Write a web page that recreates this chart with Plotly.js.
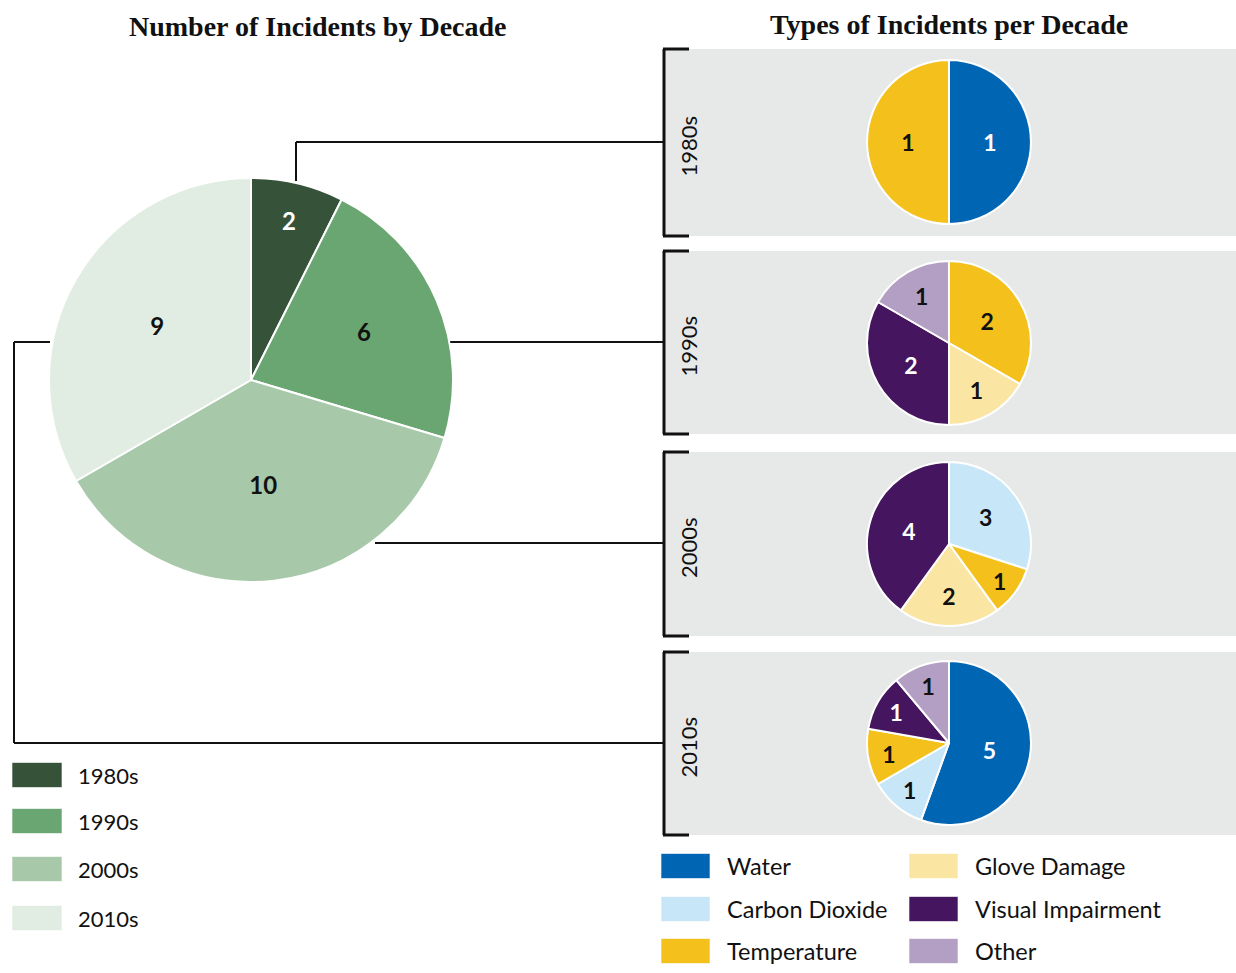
<!DOCTYPE html>
<html>
<head>
<meta charset="utf-8">
<script src="https://cdn.plot.ly/plotly-3.0.1.min.js"></script>
<style>html,body{margin:0;padding:0;background:#fff;}#chart{width:1236px;height:973px;}</style>
</head>
<body>
<div id="chart"></div>
<script>
// ---- data ----
const decades = ['1980s', '1990s', '2000s', '2010s'];
const decadeCounts = [2, 6, 10, 9];
const decadeColors = ['#36533a', '#6aa672', '#a8c8aa', '#e1ede3'];
const decadeTextColors = ['#ffffff', '#111111', '#111111', '#111111'];

const incidentTypes = ['Water', 'Carbon Dioxide', 'Temperature', 'Glove Damage', 'Visual Impairment', 'Other'];
const typeColors = ['#0066b3', '#c7e7f8', '#f4c01b', '#fbe5a3', '#45155f', '#b39fc4'];
const typeTextColors = ['#ffffff', '#111111', '#111111', '#111111', '#ffffff', '#111111'];

const types1980s = ['Water', 'Temperature'];
const values1980s = [1, 1];
const types1990s = ['Temperature', 'Glove Damage', 'Visual Impairment', 'Other'];
const values1990s = [2, 1, 2, 1];
const types2000s = ['Carbon Dioxide', 'Temperature', 'Glove Damage', 'Visual Impairment'];
const values2000s = [3, 1, 2, 4];
const types2010s = ['Water', 'Carbon Dioxide', 'Temperature', 'Visual Impairment', 'Other'];
const values2010s = [5, 1, 1, 1, 1];

const titleLeft = 'Number of Incidents by Decade';
const titleRight = 'Types of Incidents per Decade';

// ---- layout helpers ----
const W = 1236, H = 973;
const px = x => x / W;
const py = y => 1 - y / H;
const SANS = 'Lato, "Open Sans", sans-serif';

function domainFor(cx, cy, r) {
  return { x: [px(cx - r), px(cx + r)], y: [py(cy + r), py(cy - r)] };
}

const traces = [];
traces.push({
  type: 'pie', labels: decades, values: decadeCounts, sort: false,
  direction: 'clockwise', rotation: 0,
  marker: { colors: decadeColors, line: { color: '#ffffff', width: 2 } },
  textinfo: 'value', textposition: 'inside', insidetextorientation: 'horizontal',
  textfont: { family: SANS, size: 24, color: decadeTextColors, weight: 'bold' },
  domain: domainFor(251, 380, 202), showlegend: false, hole: 0
});

const panels = [
  { types: types1980s, values: values1980s, cy: 142, top: 49, bottom: 236 },
  { types: types1990s, values: values1990s, cy: 343, top: 251, bottom: 434 },
  { types: types2000s, values: values2000s, cy: 544, top: 452, bottom: 636 },
  { types: types2010s, values: values2010s, cy: 743, top: 652, bottom: 835 }
];

panels.forEach(p => {
  traces.push({
    type: 'pie', labels: p.types, values: p.values, sort: false,
    direction: 'clockwise', rotation: 0,
    marker: {
      colors: p.types.map(t => typeColors[incidentTypes.indexOf(t)]),
      line: { color: '#ffffff', width: 2 }
    },
    textinfo: 'value', textposition: 'inside', insidetextorientation: 'horizontal',
    textfont: { family: SANS, size: 23, weight: 'bold',
      color: p.types.map(t => typeTextColors[incidentTypes.indexOf(t)]) },
    domain: domainFor(949, p.cy, 82), showlegend: false
  });
});

const shapes = [];
const annotations = [];
const line = (x0, y0, x1, y1, w) => shapes.push({
  type: 'line', xref: 'paper', yref: 'paper', x0: px(x0), y0: py(y0), x1: px(x1), y1: py(y1),
  line: { color: '#111111', width: w || 2 }, layer: 'below'
});

// panels
panels.forEach((p, i) => {
  shapes.push({
    type: 'rect', xref: 'paper', yref: 'paper', x0: px(663), x1: px(1236), y0: py(p.bottom), y1: py(p.top),
    fillcolor: '#e7e8e8', line: { width: 0 }, layer: 'below'
  });
  line(664, p.top, 664, p.bottom, 3);
  line(663, p.top, 689, p.top, 3);
  line(663, p.bottom, 689, p.bottom, 3);
  annotations.push({
    xref: 'paper', yref: 'paper', x: px(688), y: py((p.top + p.bottom) / 2 + 4),
    text: decades[i], textangle: -90, showarrow: false, xanchor: 'center', yanchor: 'middle',
    font: { family: SANS, size: 22, color: '#111111' }
  });
});

// connectors
line(296, 181, 296, 142); line(296, 142, 664, 142);
line(450, 342, 664, 342);
line(375, 543, 664, 543);
line(50, 342, 14, 342); line(14, 342, 14, 743); line(14, 743, 664, 743);

// titles
annotations.push({ xref: 'paper', yref: 'paper', x: px(317), y: py(26), text: '<b>' + titleLeft + '</b>',
  showarrow: false, xanchor: 'center', yanchor: 'middle',
  font: { family: '"Liberation Serif", serif', size: 28, color: '#111111' } });
annotations.push({ xref: 'paper', yref: 'paper', x: px(949), y: py(24), text: '<b>' + titleRight + '</b>',
  showarrow: false, xanchor: 'center', yanchor: 'middle',
  font: { family: '"Liberation Serif", serif', size: 28, color: '#111111' } });

// left legend
const leftLegendY = [775, 821, 869, 918];
decades.forEach((d, i) => {
  const cy = leftLegendY[i];
  shapes.push({ type: 'rect', xref: 'paper', yref: 'paper', x0: px(12), x1: px(62), y0: py(cy + 12.5), y1: py(cy - 12.5),
    fillcolor: decadeColors[i], line: { color: 'rgba(255,255,255,0.6)', width: 1 } });
  annotations.push({ xref: 'paper', yref: 'paper', x: px(76), y: py(cy), text: d, showarrow: false,
    xanchor: 'left', yanchor: 'middle', font: { family: SANS, size: 22, color: '#111111' } });
});

// right legend (two columns)
const rightLegendX = [661, 909];
const rightLegendY = [866, 909, 951];
incidentTypes.forEach((t, i) => {
  const col = Math.floor(i / 3), row = i % 3;
  const x0 = rightLegendX[col], cy = rightLegendY[row];
  shapes.push({ type: 'rect', xref: 'paper', yref: 'paper', x0: px(x0), x1: px(x0 + 49), y0: py(cy + 12.5), y1: py(cy - 12.5),
    fillcolor: typeColors[i], line: { color: 'rgba(255,255,255,0.6)', width: 1 } });
  annotations.push({ xref: 'paper', yref: 'paper', x: px(x0 + 64), y: py(cy), text: t, showarrow: false,
    xanchor: 'left', yanchor: 'middle', font: { family: SANS, size: 23.5, color: '#111111' } });
});

const layout = {
  width: W, height: H, margin: { l: 0, r: 0, t: 0, b: 0 },
  paper_bgcolor: '#ffffff', plot_bgcolor: '#ffffff',
  showlegend: false, shapes: shapes, annotations: annotations
};

Plotly.newPlot('chart', traces, layout, { displayModeBar: false, staticPlot: false });
</script>
</body>
</html>
